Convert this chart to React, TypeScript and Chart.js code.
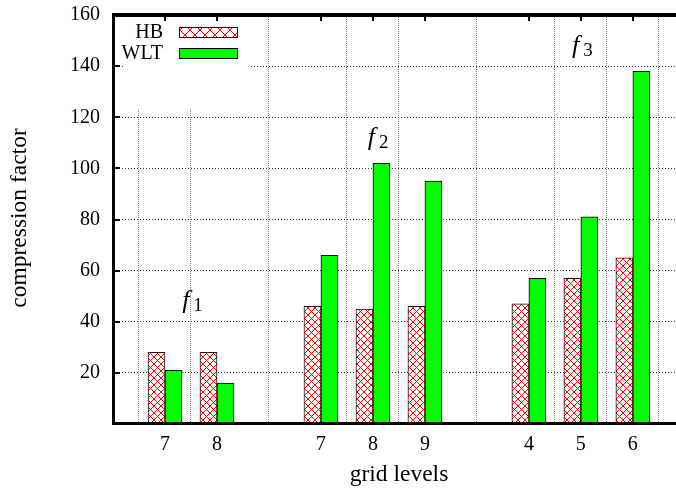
import React, { useEffect, useRef } from 'react';
import { Chart, registerables } from 'chart.js';

Chart.register(...registerables);

// ---- data ----
const seriesNames = ['HB', 'WLT'];
const barPositions = [0, 1, 3, 4, 5, 7, 8, 9];
const gridLevels = ['7', '8', '7', '8', '9', '4', '5', '6'];
const hbValues = [28, 28, 46, 45, 46, 47, 57, 65];
const wltValues = [21, 16, 66, 102, 95, 57, 81, 138];
const yTickValues = [0, 20, 40, 60, 80, 100, 120, 140, 160];
const groupSubscripts = ['1', '2', '3'];
const groupLabelX = [0.33, 3.9, 7.83];
const groupLabelY = [45.5, 109, 145];

const FONT = '"Liberation Serif", "DejaVu Serif", serif';

function makeHatch(size: number): CanvasPattern | string {
  const c = document.createElement('canvas');
  c.width = size;
  c.height = size;
  const g = c.getContext('2d');
  if (!g) return '#fff';
  g.fillStyle = '#ffffff';
  g.fillRect(0, 0, size, size);
  g.strokeStyle = '#ff0000';
  g.lineWidth = 1;
  g.beginPath();
  g.moveTo(-1, -1);
  g.lineTo(size + 1, size + 1);
  g.moveTo(size + 1, -1);
  g.lineTo(-1, size + 1);
  g.stroke();
  const p = g.createPattern(c, 'repeat');
  return p || '#fff';
}

export default function App() {
  const ref = useRef<HTMLCanvasElement | null>(null);

  useEffect(() => {
    const canvas = ref.current;
    if (!canvas) return;
    const ctx0 = canvas.getContext('2d');
    if (!ctx0) return;
    const hatch = makeHatch(7);
    const legendHatch = makeHatch(10);

    const decor = {
      id: 'decor',
      beforeDatasetsDraw(chart: any) {
        const { ctx, chartArea } = chart;
        ctx.save();
        ctx.fillStyle = '#ffffff';
        ctx.fillRect(125, chartArea.top + 2, 126, 91);
        ctx.restore();
      },
      afterDraw(chart: any) {
        const { ctx, chartArea } = chart;
        const xs = chart.scales.x;
        const ys = chart.scales.y;
        const L = Math.round(chartArea.left);
        const B = Math.round(chartArea.bottom);
        const R = Math.round(chartArea.right);
        const T = Math.round(ys.getPixelForValue(160));
        ctx.save();
        ctx.setLineDash([]);
        ctx.globalAlpha = 1;

        // legend
        ctx.fillStyle = '#000';
        ctx.font = '20px ' + FONT;
        ctx.textAlign = 'right';
        ctx.textBaseline = 'middle';
        ctx.fillText(seriesNames[0], 163, 33);
        ctx.fillText(seriesNames[1], 163, 54);
        ctx.lineWidth = 1;
        ctx.strokeStyle = '#400';
        ctx.fillStyle = legendHatch;
        ctx.fillRect(179, 27, 59, 11);
        ctx.strokeRect(179.5, 27.5, 58, 10);
        ctx.fillStyle = '#00ff00';
        ctx.strokeStyle = '#000';
        ctx.fillRect(179, 48, 59, 11);
        ctx.strokeRect(179.5, 48.5, 58, 10);

        // group labels f1, f2, f3
        ctx.textAlign = 'left';
        ctx.textBaseline = 'alphabetic';
        ctx.fillStyle = '#000';
        groupSubscripts.forEach((s, i) => {
          const x = xs.getPixelForValue(groupLabelX[i]);
          const y = ys.getPixelForValue(groupLabelY[i]);
          ctx.font = 'italic 26px ' + FONT;
          ctx.fillText('f', x, y);
          const w = ctx.measureText('f').width;
          ctx.font = '19px ' + FONT;
          ctx.fillText(s, x + w + 4, y + 3);
        });

        // axis titles
        ctx.font = '23.5px ' + FONT;
        ctx.textAlign = 'center';
        ctx.textBaseline = 'middle';
        ctx.fillText('grid levels', 399, 475);
        ctx.save();
        ctx.translate(20, 218);
        ctx.rotate(-Math.PI / 2);
        ctx.fillText('compression factor', 0, 0);
        ctx.restore();

        // axes frame (drawn last)
        ctx.fillStyle = '#000000';
        ctx.fillRect(L - 1, T - 1, 3, B - T + 2);
        ctx.fillRect(L - 1, B - 2, R - L + 1, 3);
        ctx.fillRect(L - 1, T - 2, R - L + 1, 4);
        // y tick marks
        yTickValues.forEach((v) => {
          if (v === 0 || v === 160) return;
          const y = Math.round(ys.getPixelForValue(v));
          ctx.fillRect(L, y - 1, 7, 2);
        });
        // top tick marks
        barPositions.forEach((p) => {
          const x = Math.round(xs.getPixelForValue(p));
          ctx.fillRect(x - 1, T, 2, 6);
        });
        ctx.restore();
      },
    };

    const chart = new Chart(ctx0, {
      type: 'bar',
      data: {
        datasets: [
          {
            label: seriesNames[0],
            data: barPositions.map((p, i) => ({ x: p, y: hbValues[i] })),
            backgroundColor: hatch as any,
            borderColor: '#300',
            borderWidth: 1,
            barThickness: 17,
          },
          {
            label: seriesNames[1],
            data: barPositions.map((p, i) => ({ x: p, y: wltValues[i] })),
            backgroundColor: '#00ff00',
            borderColor: '#000',
            borderWidth: 1,
            barThickness: 17,
          },
        ],
      },
      options: {
        animation: false,
        responsive: false,
        devicePixelRatio: 1,
        layout: { padding: { top: 15, left: 0, right: 0, bottom: 0 } },
        plugins: {
          legend: { display: false },
          tooltip: { enabled: false },
          title: { display: false },
        },
        scales: {
          x: {
            type: 'linear',
            min: -1,
            max: 9.83,
            offset: false,
            afterBuildTicks: (axis: any) => {
              axis.ticks = barPositions.map((v) => ({ value: v }));
            },
            afterFit: (axis: any) => {
              axis.height = 65;
              axis.paddingLeft = 0;
              axis.paddingRight = 0;
              axis.paddingTop = 0;
              axis.paddingBottom = 0;
            },
            ticks: {
              autoSkip: false,
              maxRotation: 0,
              padding: 9,
              color: '#000',
              font: { family: FONT, size: 20 },
              callback: (value: any) => {
                const i = barPositions.indexOf(Number(value));
                return i >= 0 ? gridLevels[i] : '';
              },
            },
            grid: {
              drawTicks: false,
              color: '#888',
              lineWidth: 1,
            },
            border: { display: false, dash: [1, 1] },
          },
          y: {
            type: 'linear',
            min: 0,
            max: 160,
            afterBuildTicks: (axis: any) => {
              axis.ticks = yTickValues.map((v) => ({ value: v }));
            },
            afterFit: (axis: any) => {
              axis.width = 113;
              axis.paddingLeft = 0;
              axis.paddingRight = 0;
              axis.paddingTop = 0;
              axis.paddingBottom = 0;
            },
            ticks: {
              padding: 13,
              color: '#000',
              font: { family: FONT, size: 20 },
              callback: (value: any) => (Number(value) === 0 ? '' : String(value)),
            },
            grid: {
              drawTicks: false,
              color: (c: any) =>
                c.tick && (c.tick.value === 0 || c.tick.value === 160) ? 'rgba(0,0,0,0)' : '#333',
              lineWidth: 1,
            },
            border: { display: false, dash: [1, 2] },
          },
        },
      },
      plugins: [decor],
    } as any);

    return () => {
      chart.destroy();
    };
  }, []);

  return (
    <div style={{ position: 'absolute', left: 0, top: 0, width: 676, height: 489, background: '#fff' }}>
      <canvas ref={ref} width={676} height={489} style={{ width: 676, height: 489, display: 'block' }} />
    </div>
  );
}
